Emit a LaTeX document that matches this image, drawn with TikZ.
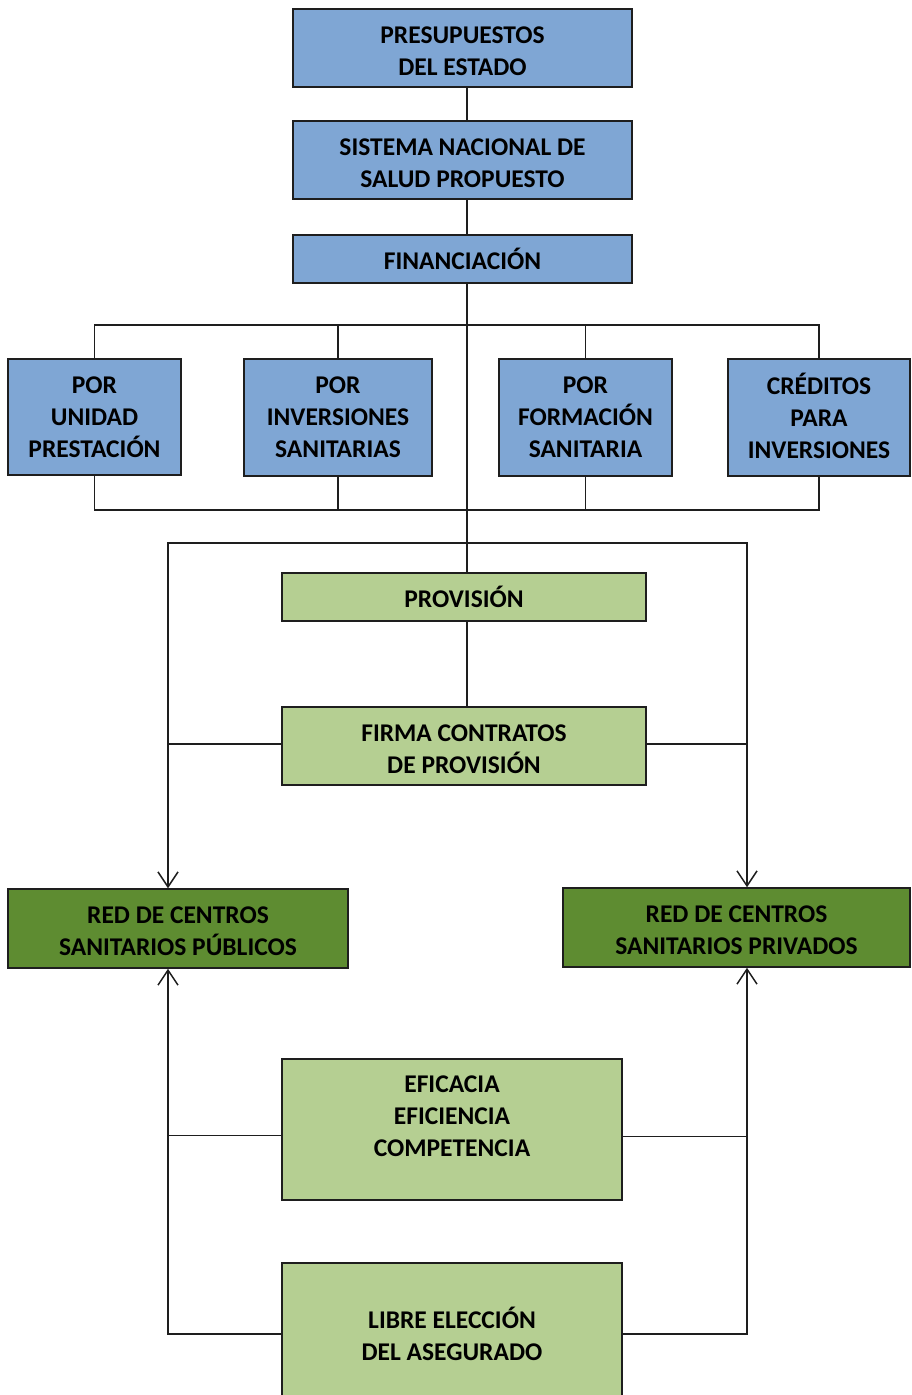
\documentclass[tikz,border=0pt]{standalone}
\usepackage{fontspec}
\setmainfont{Carlito}
\usetikzlibrary{arrows.meta}
\definecolor{bfill}{RGB}{127,166,212}
\definecolor{lgfill}{RGB}{181,207,146}
\definecolor{dgfill}{RGB}{94,140,49}
\definecolor{edge}{RGB}{30,30,30}
\tikzset{
  txt/.style={inner sep=0pt, align=center,
    font=\fontsize{25.5}{32}\selectfont\bfseries, text=black},
  box/.style={draw=edge, line width=1.5pt, txt},
  bluebox/.style={box, fill=bfill},
  lgbox/.style={box, fill=lgfill},
  dgbox/.style={box, fill=dgfill},
  conn/.style={draw=edge, line width=1.5pt},
  arr/.style={conn, -{Straight Barb[length=15pt,width=20pt,line width=1.5pt]}}
}
\begin{document}
\begin{tikzpicture}[x=1pt,y=-1pt]
\clip (0,0) rectangle (911,1395);
\fill[white] (0,0) rectangle (911,1395);
% nodes
\node[bluebox, minimum width=339pt, minimum height=78pt,
  label={[txt, yshift=-3pt]center:{PRESUPUESTOS\\DEL ESTADO}}] (pres) at (462.5,48) {};
\node[bluebox, minimum width=339pt, minimum height=78pt,
  label={[txt, yshift=-3pt]center:{SISTEMA NACIONAL DE\\SALUD PROPUESTO}}] (sist) at (462.5,160) {};
\node[bluebox, minimum width=339pt, minimum height=48pt] (fin) at (462.5,259) {FINANCIACIÓN};
\node[bluebox, minimum width=173pt, minimum height=116pt] (A) at (94.5,417) {POR\\UNIDAD\\PRESTACIÓN};
\node[bluebox, minimum width=188pt, minimum height=117pt] (B) at (338,417.5) {POR\\INVERSIONES\\SANITARIAS};
\node[bluebox, minimum width=173pt, minimum height=117pt] (C) at (585.5,417.5) {POR\\FORMACIÓN\\SANITARIA};
\node[bluebox, minimum width=182pt, minimum height=117pt,
  label={[txt, yshift=2pt]center:{CRÉDITOS\\PARA\\INVERSIONES}}] (D) at (819,417.5) {};
\node[lgbox, minimum width=364pt, minimum height=48pt] (prov) at (464,597) {PROVISIÓN};
\node[lgbox, minimum width=364pt, minimum height=78pt,
  label={[txt, yshift=-3pt]center:{FIRMA CONTRATOS\\DE PROVISIÓN}}] (firma) at (464,746) {};
\node[dgbox, minimum width=340pt, minimum height=79pt,
  label={[txt, yshift=-3pt]center:{RED DE CENTROS\\SANITARIOS PÚBLICOS}}] (pub) at (178,928.5) {};
\node[dgbox, minimum width=347pt, minimum height=79pt,
  label={[txt, yshift=-3pt]center:{RED DE CENTROS\\SANITARIOS PRIVADOS}}] (priv) at (736.5,927.5) {};
\node[lgbox, minimum width=340pt, minimum height=141pt,
  label={[txt, yshift=13pt]center:{EFICACIA\\EFICIENCIA\\COMPETENCIA}}] (efic) at (452,1129.5) {};
\node[lgbox, minimum width=340pt, minimum height=134pt,
  label={[txt, yshift=-4pt]center:{LIBRE ELECCIÓN\\DEL ASEGURADO}}] (libre) at (452,1330) {};
% helper coordinates
\coordinate (t) at (467,0);
\coordinate (bt) at (467,325);
\coordinate (bb) at (467,510);
\coordinate (pb) at (467,543);
\coordinate (xl) at (168,0);
\coordinate (xr) at (747,0);
% trunk
\draw[conn] (pres.south -| t) -- (sist.north -| t);
\draw[conn] (sist.south -| t) -- (fin.north -| t);
\draw[conn] (fin.south -| t) -- (prov.north -| t);
\draw[conn] (prov.south -| t) -- (firma.north -| t);
% top bus
\draw[conn] (A.north) |- (bt) -| (D.north);
\draw[conn] (B.north) -- (B.north |- bt);
\draw[conn] (C.north) -- (C.north |- bt);
% bottom bus
\draw[conn] (A.south) |- (bb) -| (D.south);
\draw[conn] (B.south) -- (B.south |- bb);
\draw[conn] (C.south) -- (C.south |- bb);
% provision bus
\draw[arr] (pb) -| (pub.north -| xl);
\draw[arr] (pb) -| (priv.north -| xr);
\draw[conn] ([yshift=2pt]firma.west) -- ([yshift=2pt]firma.west -| xl);
\draw[conn] ([yshift=2pt]firma.east) -- ([yshift=2pt]firma.east -| xr);
% bottom connectors
\draw[arr] ([yshift=-4pt]libre.west) -| (pub.south -| xl);
\draw[arr] ([yshift=-4pt]libre.east) -| (priv.south -| xr);
\draw[conn] ([yshift=-6pt]efic.west) -- ([yshift=-6pt]efic.west -| xl);
\draw[conn] ([yshift=-7pt]efic.east) -- ([yshift=-7pt]efic.east -| xr);
\end{tikzpicture}
\end{document}
